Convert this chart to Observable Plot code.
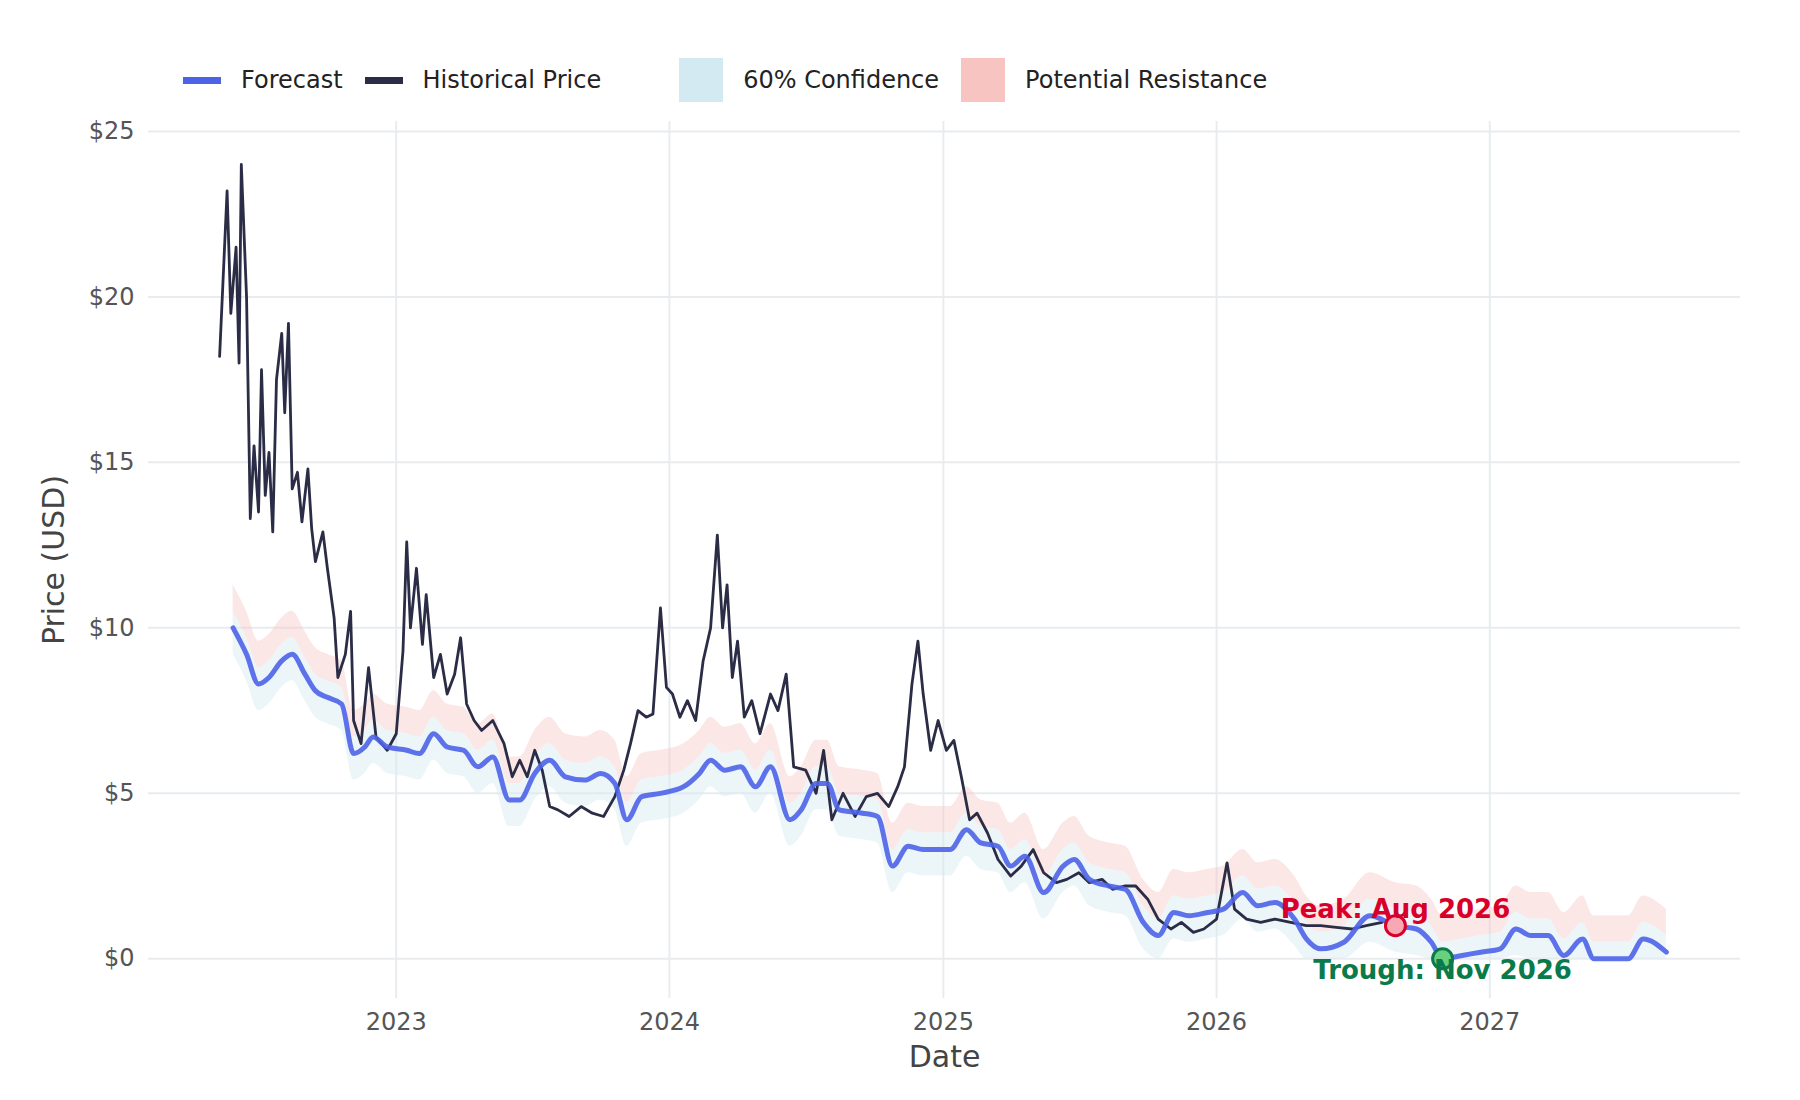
<!DOCTYPE html>
<html><head><meta charset="utf-8">
<script src="https://cdn.jsdelivr.net/npm/d3@7"></script>
<script src="https://cdn.jsdelivr.net/npm/@observablehq/plot@0.6"></script>
<style>
body{margin:0;background:#fff;font-family:"DejaVu Sans",sans-serif;}
#wrap{position:relative;width:1800px;height:1100px;}
#legend{position:absolute;top:58px;left:183px;display:flex;align-items:center;font-size:24px;color:#222;}
.sw{display:inline-block;margin-right:20px;}
.it{display:flex;align-items:center;margin-right:22px;}
</style></head><body>
<div id="wrap">
<div id="legend">
 <div class="it"><span class="sw" style="width:38px;height:7px;background:#4c63e8"></span>Forecast</div>
 <div class="it"><span class="sw" style="width:38px;height:7px;background:#2a2d45"></span>Historical Price</div>
 <div class="it" style="margin-left:56px"><span class="sw" style="width:44px;height:44px;background:#d4eaf2"></span>60% Confidence</div>
 <div class="it" style="margin-left:0px"><span class="sw" style="width:44px;height:44px;background:#f8c4c2"></span>Potential Resistance</div>
</div>
<div id="chart"></div>
</div>
<script>
const histDates = ["2022-05-10","2022-05-20","2022-05-25","2022-06-01","2022-06-05","2022-06-08","2022-06-15","2022-06-20","2022-06-25","2022-07-01","2022-07-05","2022-07-10","2022-07-15","2022-07-20","2022-07-25","2022-08-01","2022-08-05","2022-08-10","2022-08-15","2022-08-22","2022-08-28","2022-09-05","2022-09-10","2022-09-15","2022-09-25","2022-10-01","2022-10-10","2022-10-15","2022-10-25","2022-11-01","2022-11-05","2022-11-15","2022-11-25","2022-12-05","2022-12-20","2023-01-01","2023-01-10","2023-01-15","2023-01-20","2023-01-28","2023-02-05","2023-02-10","2023-02-20","2023-03-01","2023-03-10","2023-03-20","2023-03-28","2023-04-05","2023-04-15","2023-04-25","2023-05-10","2023-05-25","2023-06-05","2023-06-15","2023-06-25","2023-07-05","2023-07-15","2023-07-25","2023-08-05","2023-08-20","2023-09-05","2023-09-20","2023-10-05","2023-10-20","2023-11-01","2023-11-10","2023-11-20","2023-12-01","2023-12-10","2023-12-20","2023-12-28","2024-01-05","2024-01-15","2024-01-25","2024-02-05","2024-02-15","2024-02-25","2024-03-05","2024-03-12","2024-03-18","2024-03-25","2024-04-01","2024-04-10","2024-04-20","2024-05-01","2024-05-15","2024-05-25","2024-06-05","2024-06-15","2024-07-01","2024-07-15","2024-07-25","2024-08-05","2024-08-20","2024-09-05","2024-09-20","2024-10-05","2024-10-20","2024-11-01","2024-11-10","2024-11-20","2024-11-28","2024-12-05","2024-12-15","2024-12-25","2025-01-05","2025-01-15","2025-01-25","2025-02-05","2025-02-15","2025-03-01","2025-03-15","2025-04-01","2025-04-15","2025-05-01","2025-05-15","2025-06-01","2025-06-15","2025-07-01","2025-07-15","2025-08-01","2025-08-15","2025-09-01","2025-09-15","2025-10-01","2025-10-15","2025-11-01","2025-11-15","2025-12-01","2025-12-15","2026-01-01","2026-01-15","2026-01-25","2026-02-10","2026-03-01","2026-03-20","2026-04-10","2026-05-01","2026-05-20","2026-06-10","2026-07-01","2026-07-20","2026-08-10"];
const histPrices = [18.2,23.2,19.5,21.5,18.0,24.0,20.0,13.3,15.5,13.5,17.8,14.0,15.3,12.9,17.5,18.9,16.5,19.2,14.2,14.7,13.2,14.8,13.0,12.0,12.9,11.8,10.3,8.5,9.2,10.5,7.2,6.5,8.8,6.7,6.3,6.8,9.3,12.6,10.0,11.8,9.5,11.0,8.5,9.2,8.0,8.6,9.7,7.7,7.2,6.9,7.2,6.5,5.5,6.0,5.5,6.3,5.7,4.6,4.5,4.3,4.6,4.4,4.3,4.9,5.7,6.5,7.5,7.3,7.4,10.6,8.2,8.0,7.3,7.8,7.2,9.0,10.0,12.8,10.0,11.3,8.5,9.6,7.3,7.8,6.8,8.0,7.5,8.6,5.8,5.7,5.0,6.3,4.2,5.0,4.3,4.9,5.0,4.6,5.2,5.8,8.3,9.6,8.0,6.3,7.2,6.3,6.6,5.5,4.2,4.4,3.8,3.0,2.5,2.8,3.3,2.6,2.3,2.4,2.6,2.3,2.4,2.1,2.2,2.2,1.8,1.2,0.9,1.1,0.8,0.9,1.2,2.9,1.5,1.2,1.1,1.2,1.1,1.0,1.0,0.95,0.9,1.0,1.1];

const fcDates = ["2022-05-28","2022-06-15","2022-07-01","2022-07-15","2022-08-01","2022-08-15","2022-09-01","2022-09-15","2022-10-01","2022-10-20","2022-11-05","2022-11-20","2022-12-01","2022-12-20","2023-01-15","2023-02-01","2023-02-20","2023-03-10","2023-04-01","2023-04-20","2023-05-10","2023-06-01","2023-06-15","2023-07-05","2023-07-25","2023-08-15","2023-09-10","2023-10-01","2023-10-20","2023-11-05","2023-11-25","2023-12-20","2024-01-20","2024-02-10","2024-02-25","2024-03-15","2024-04-05","2024-04-25","2024-05-15","2024-06-10","2024-06-25","2024-07-15","2024-07-30","2024-08-15","2024-09-15","2024-10-05","2024-10-25","2024-11-15","2024-12-05","2025-01-10","2025-02-01","2025-02-20","2025-03-15","2025-04-01","2025-04-20","2025-05-15","2025-06-10","2025-06-25","2025-07-15","2025-08-10","2025-09-01","2025-09-25","2025-10-15","2025-11-05","2025-11-25","2025-12-20","2026-01-10","2026-02-05","2026-02-25","2026-03-20","2026-04-15","2026-05-01","2026-05-20","2026-06-20","2026-07-25","2026-08-28","2026-09-25","2026-10-15","2026-10-30","2026-11-25","2026-12-20","2027-01-15","2027-02-05","2027-02-25","2027-03-20","2027-04-10","2027-05-05","2027-05-20","2027-06-20","2027-07-05","2027-07-25","2027-08-25"];
const fcPrices = [10.0,9.2,8.3,8.5,9.0,9.2,8.6,8.1,7.9,7.7,6.2,6.4,6.7,6.4,6.3,6.2,6.8,6.4,6.3,5.8,6.1,4.8,4.8,5.6,6.0,5.5,5.4,5.6,5.3,4.2,4.9,5.0,5.2,5.6,6.0,5.7,5.8,5.2,5.8,4.2,4.5,5.3,5.3,4.5,4.4,4.3,2.8,3.4,3.3,3.3,3.9,3.5,3.4,2.8,3.1,2.0,2.8,3.0,2.4,2.2,2.1,1.1,0.7,1.4,1.3,1.4,1.5,2.0,1.6,1.7,1.2,0.6,0.3,0.5,1.3,1.0,0.9,0.5,0.0,0.1,0.2,0.3,0.9,0.7,0.7,0.1,0.6,0.0,0.0,0.0,0.6,0.2];

// band offsets (dollars relative to forecast)
const confBelow = 0.8, confAbove = 0.5, resAbove = 1.3;

const peak = {date:"2026-08-28", value:1.0, label:"Peak: Aug 2026"};
const trough = {date:"2026-10-30", value:0.0, label:"Trough: Nov 2026"};
const yTicks = [0,5,10,15,20,25];
const xTicks = ["2023-01-01","2024-01-01","2025-01-01","2026-01-01","2027-01-01"];

const P = d3.timeParse("%Y-%m-%d");
const hist = histDates.map((d,i)=>({date:P(d), v:histPrices[i]}));
const fc = fcDates.map((d,i)=>({date:P(d), v:fcPrices[i], lo:Math.max(0,fcPrices[i]-confBelow), hi:fcPrices[i]+confAbove, res:fcPrices[i]+resAbove}));
const pk = [{...peak, date:P(peak.date)}], tr=[{...trough, date:P(trough.date)}];

const chart = Plot.plot({
  width:1800, height:1100,
  marginTop:121, marginBottom:102, marginLeft:148, marginRight:60,
  style:{fontFamily:"DejaVu Sans, sans-serif", fontSize:"24px", color:"#555"},
  x:{type:"time", domain:[P("2022-02-04"),P("2027-12-02")], ticks:xTicks.map(P), tickFormat:d3.timeFormat("%Y"), tickSize:0, tickPadding:14, label:"Date", labelArrow:"none", labelAnchor:"center", labelOffset:68},
  y:{domain:[-1.2,25.3], ticks:yTicks, tickFormat:d=>"$"+d, tickSize:0, tickPadding:14, label:"Price (USD)", labelArrow:"none", labelAnchor:"center", labelOffset:106},
  marks:[
    Plot.gridX(xTicks.map(P),{stroke:"#e8ecef", strokeOpacity:1, strokeWidth:2}),
    Plot.gridY(yTicks,{stroke:"#e8ecef", strokeOpacity:1, strokeWidth:2}),
    Plot.areaY(fc,{x:"date", y1:"hi", y2:"res", fill:"#f8c4c2", fillOpacity:0.4, curve:"monotone-x"}),
    Plot.areaY(fc,{x:"date", y1:"lo", y2:"hi", fill:"#d4eaf2", fillOpacity:0.45, curve:"monotone-x"}),
    Plot.line(hist,{x:"date", y:"v", stroke:"#2a2d45", strokeWidth:2.8}),
    Plot.line(fc,{x:"date", y:"v", stroke:"#4c63e8", strokeWidth:5, strokeOpacity:0.9, curve:"monotone-x"}),
    Plot.dot(pk,{x:"date", y:"value", r:10, fill:"#f7a8b4", stroke:"#d8002a", strokeWidth:3}),
    Plot.dot(tr,{x:"date", y:"value", r:10, fill:"#69d17d", stroke:"#0b7a4b", strokeWidth:3}),
    Plot.text(pk,{x:"date", y:"value", text:"label", dy:-16, fill:"#d8002a", fontWeight:"bold", fontSize:26}),
    Plot.text(tr,{x:"date", y:"value", text:"label", dy:12, fill:"#0b7a4b", fontWeight:"bold", fontSize:26})
  ]
});
d3.select(chart).selectAll("[aria-label='x-axis label'] text, [aria-label='y-axis label'] text").style("font-size","30px").style("fill","#444");
document.getElementById("chart").appendChild(chart);
</script>
</body></html>
